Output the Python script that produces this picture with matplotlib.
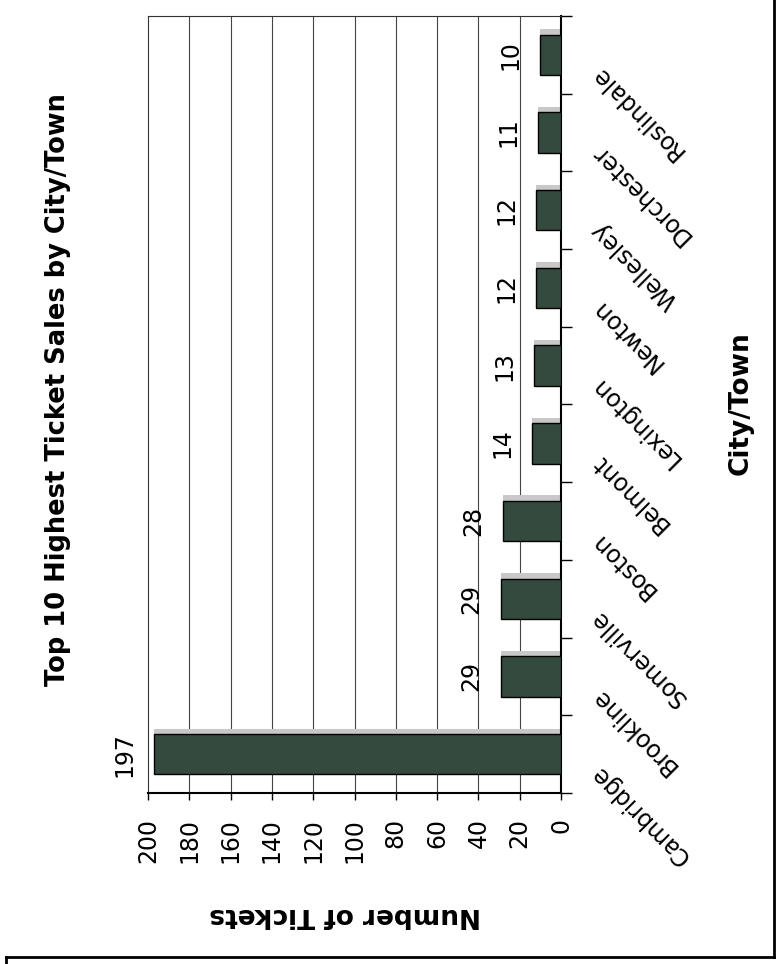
import numpy as np
import matplotlib
matplotlib.use("Agg")
import matplotlib.pyplot as plt
from matplotlib.lines import Line2D
from matplotlib.transforms import ScaledTranslation

# data, bottom to top as drawn
cities = ["Cambridge", "Brookline", "Somerville", "Boston", "Belmont",
          "Lexington", "Newton", "Wellesley", "Dorchester", "Roslindale"]
tickets = [197, 29, 29, 28, 14, 13, 12, 12, 11, 10]
value_ticks = list(range(0, 201, 20))

title = "Top 10 Highest Ticket Sales by City/Town"
value_label = "Number of Tickets"
cat_label = "City/Town"

bar_color = "#344a3e"
plt.rcParams["font.family"] = "DejaVu Sans"

fig = plt.figure(figsize=(7.8, 9.64), dpi=100)
ax = fig.add_axes([148 / 780, 1 - 793 / 964, 413 / 780, 777 / 964])

y = np.arange(len(cities))
# light "top face" strip above each bar
ax.barh(y + 0.26 + 0.035, tickets, height=0.07, color="#c8c8c8", zorder=2)
ax.barh(y, tickets, height=0.52, color=bar_color, edgecolor="black",
        linewidth=1.0, zorder=3)

for yi, v in zip(y, tickets):
    ax.annotate(str(v), xy=(v, yi), xytext=(-13, 0), textcoords="offset points",
                rotation=90, ha="right", va="center", fontsize=17)

ax.set_xlim(200, 0)
ax.set_ylim(-0.5, len(cities) - 0.5)

# gridlines
for t in value_ticks[1:-1]:
    ax.axvline(t, color="#444444", lw=0.8, zorder=1)

ax.set_xticks(value_ticks)
ax.set_xticklabels([str(t) for t in value_ticks])
ax.tick_params(axis="x", direction="out", length=5, width=1, pad=13,
               labelsize=17, labelrotation=90)

ax.yaxis.tick_right()
ax.set_yticks(y)
ax.set_yticks(np.arange(-0.5, len(cities), 1.0), minor=True)
ax.set_yticklabels(cities, fontsize=17, rotation=135, ha="right", va="center",
                   rotation_mode="anchor")
ax.tick_params(axis="y", which="major", length=0, pad=24)
ax.tick_params(axis="y", which="minor", direction="out", length=8, width=1,
               right=True, left=False)
shift = ScaledTranslation(0, -0.15, fig.dpi_scale_trans)
for lab in ax.get_yticklabels():
    lab.set_transform(lab.get_transform() + shift)

for side in ["left", "top"]:
    ax.spines[side].set_linewidth(0.8)
    ax.spines[side].set_color("#333333")
for side in ["right", "bottom"]:
    ax.spines[side].set_linewidth(1.5)

fig.text(58 / 780, 1 - 390 / 964, title, rotation=90, ha="center", va="center",
         fontsize=18.5, fontweight="bold")
fig.text(345 / 780, 1 - 915 / 964, value_label, rotation=180, ha="center",
         va="center", fontsize=19, fontweight="bold")
fig.text(741 / 780, 1 - 403 / 964, cat_label, rotation=90, ha="center",
         va="center", fontsize=19, fontweight="bold")

# outer border of the page
for xs, ys in [([6 / 780, 6 / 780], [0, 1 - 957 / 964]),
               ([6 / 780, 774 / 780], [1 - 957 / 964, 1 - 957 / 964]),
               ([774 / 780, 774 / 780], [1 - 957 / 964, 1])]:
    fig.add_artist(Line2D(xs, ys, color="black", lw=2, transform=fig.transFigure))

fig.savefig("out.png", dpi=100)
